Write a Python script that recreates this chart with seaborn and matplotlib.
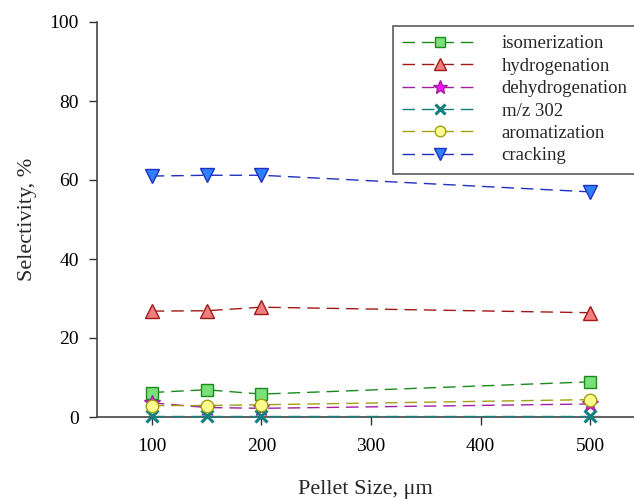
import matplotlib
matplotlib.use("Agg")
import matplotlib.pyplot as plt
import seaborn as sns
import pandas as pd

pellet_size = [100, 150, 200, 500]
isomerization = [6.2, 6.9, 5.8, 8.9]
hydrogenation = [26.8, 26.9, 27.8, 26.4]
dehydrogenation = [3.6, 2.4, 2.2, 3.3]
mz302 = [0.2, 0.2, 0.2, 0.2]
aromatization = [2.9, 2.9, 3.1, 4.4]
cracking = [61.0, 61.2, 61.2, 57.0]

series_names = ["isomerization", "hydrogenation", "dehydrogenation", "m/z 302", "aromatization", "cracking"]
series_values = [isomerization, hydrogenation, dehydrogenation, mz302, aromatization, cracking]

styles = {
    "isomerization": dict(color="#1a8a1a", marker="s", mfc="#7be07b", mec="#1a8a1a", ms=9),
    "hydrogenation": dict(color="#a01818", marker="^", mfc="#f08080", mec="#a01818", ms=10),
    "dehydrogenation": dict(color="#a020a0", marker="*", mfc="#ff10ff", mec="#a020a0", ms=12),
    "m/z 302": dict(color="#108080", marker="x", mfc="#108080", mec="#108080", ms=8),
    "aromatization": dict(color="#a0a010", marker="o", mfc="#ffff90", mec="#a0a010", ms=9),
    "cracking": dict(color="#2030c0", marker="v", mfc="#2f80ff", mec="#2030c0", ms=10),
}

rows = []
for name, vals in zip(series_names, series_values):
    for x, v in zip(pellet_size, vals):
        rows.append({"Pellet": x, "Selectivity": v, "Series": name})
df = pd.DataFrame(rows)

sns.set_style("ticks")
plt.rcParams["font.family"] = ["Liberation Serif", "DejaVu Serif"]

fig = plt.figure(figsize=(6.34, 4.99), dpi=100)
ax = fig.add_axes([97 / 634, 1 - 417 / 499, 537 / 634, 395 / 499])

for name in series_names:
    st = styles[name]
    sub = df[df["Series"] == name]
    sns.lineplot(data=sub, x="Pellet", y="Selectivity", ax=ax, color=st["color"],
                 linewidth=1.0, label=name)
    line = ax.lines[-1]
    line.set_dashes([9, 5])
    line.set_marker(st["marker"])
    line.set_markerfacecolor(st["mfc"])
    line.set_markeredgecolor(st["mec"])
    line.set_markersize(st["ms"])
    line.set_markeredgewidth(1.0 if st["marker"] != "x" else 2.2)
    line.set_clip_on(False)
    line.set_zorder(3)

ax.set_xlim(50, 540)
ax.set_ylim(0, 100)
ax.set_xticks([100, 200, 300, 400, 500])
ax.set_yticks([0, 20, 40, 60, 80, 100])
ax.tick_params(labelsize=14, length=6, width=1, colors="#333333", labelcolor="black")
ax.tick_params(axis="y", pad=7)
ax.tick_params(axis="x", pad=9)
for s in ["top", "right"]:
    ax.spines[s].set_visible(False)
for s in ["left", "bottom"]:
    ax.spines[s].set_color("#444444")
    ax.spines[s].set_linewidth(1.2)

ax.set_xlabel("Pellet Size, \u03bcm", fontsize=16, labelpad=18)
ax.set_ylabel("Selectivity, %", fontsize=16, labelpad=9)

leg = ax.legend(loc="upper left", bbox_to_anchor=((393 - 97) / 537, 1 - 4 / 395), fontsize=13.5,
                handlelength=4.0, handletextpad=1.3, frameon=True, fancybox=False,
                borderpad=0.5, labelspacing=0.28, markerscale=0.85, borderaxespad=0.0)
leg.get_frame().set_edgecolor("#333333")
leg.get_frame().set_linewidth(1.2)
for h in leg.get_lines():
    h.set_dashes([9, 5])

fig.savefig("out.png", dpi=100)
